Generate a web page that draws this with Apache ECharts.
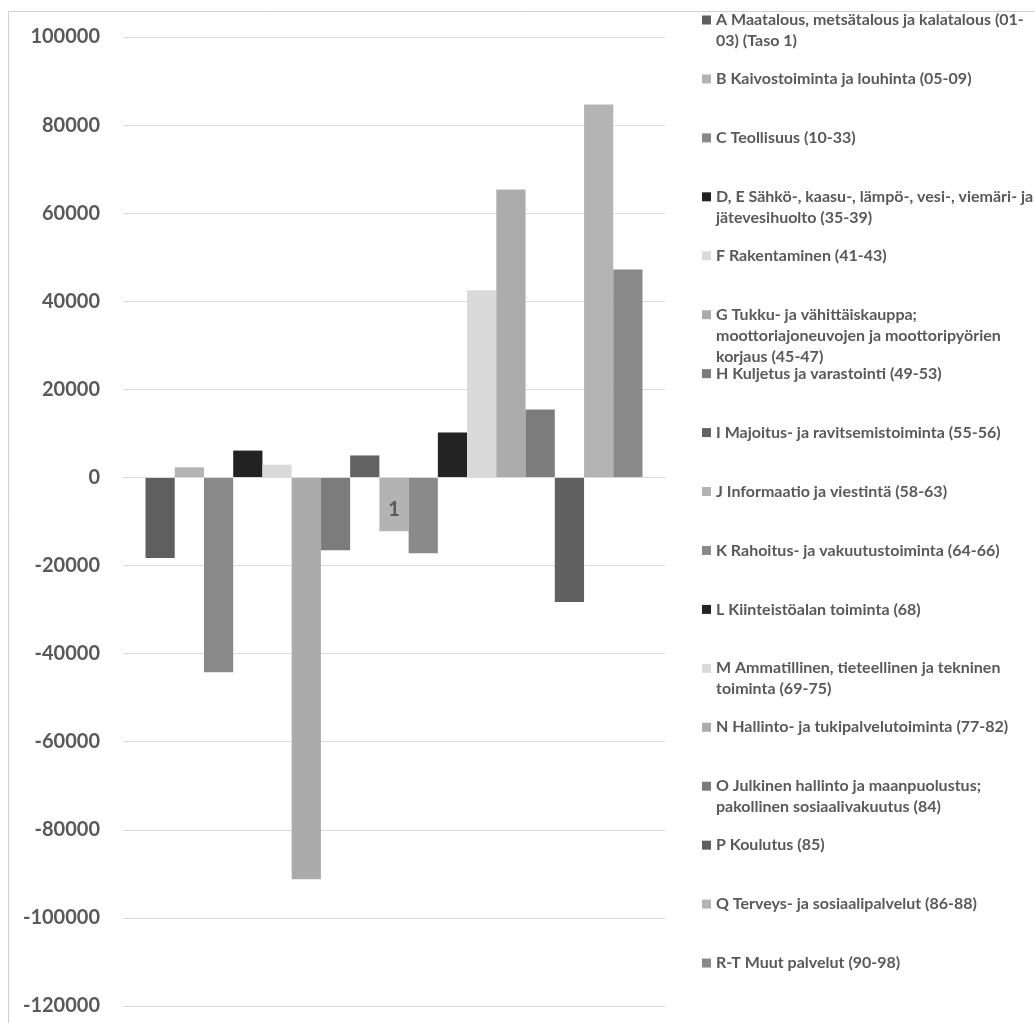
<!DOCTYPE html>
<html>
<head>
<meta charset="utf-8">
<script src="https://cdn.jsdelivr.net/npm/echarts@6/dist/echarts.min.js"></script>
<style>
  html, body { margin: 0; padding: 0; background: #ffffff; }
  #chart { width: 1035px; height: 1023px; }
</style>
</head>
<body>
<div id="chart"></div>
<script>
// Category axis: a single group
const categories = ['1'];

// Industry sections (TOL 2008)
const seriesNames = [
  'A Maatalous, metsätalous ja kalatalous (01-03) (Taso 1)',
  'B Kaivostoiminta ja louhinta (05-09)',
  'C Teollisuus (10-33)',
  'D, E Sähkö-, kaasu-, lämpö-, vesi-, viemäri- ja jätevesihuolto (35-39)',
  'F Rakentaminen (41-43)',
  'G Tukku- ja vähittäiskauppa; moottoriajoneuvojen ja moottoripyörien korjaus (45-47)',
  'H Kuljetus ja varastointi (49-53)',
  'I Majoitus- ja ravitsemistoiminta (55-56)',
  'J Informaatio ja viestintä (58-63)',
  'K Rahoitus- ja vakuutustoiminta (64-66)',
  'L Kiinteistöalan toiminta (68)',
  'M Ammatillinen, tieteellinen ja tekninen toiminta (69-75)',
  'N Hallinto- ja tukipalvelutoiminta (77-82)',
  'O Julkinen hallinto ja maanpuolustus; pakollinen sosiaalivakuutus (84)',
  'P Koulutus (85)',
  'Q Terveys- ja sosiaalipalvelut (86-88)',
  'R-T Muut palvelut (90-98)'
];

// Legend text as wrapped in the legend column
const legendLabels = [
  'A Maatalous, metsätalous ja kalatalous (01-\n03) (Taso 1)',
  'B Kaivostoiminta ja louhinta (05-09)',
  'C Teollisuus (10-33)',
  'D, E Sähkö-, kaasu-, lämpö-, vesi-, viemäri- ja\njätevesihuolto (35-39)',
  'F Rakentaminen (41-43)',
  'G Tukku- ja vähittäiskauppa;\nmoottoriajoneuvojen ja moottoripyörien\nkorjaus (45-47)',
  'H Kuljetus ja varastointi (49-53)',
  'I Majoitus- ja ravitsemistoiminta (55-56)',
  'J Informaatio ja viestintä (58-63)',
  'K Rahoitus- ja vakuutustoiminta (64-66)',
  'L Kiinteistöalan toiminta (68)',
  'M Ammatillinen, tieteellinen ja tekninen\ntoiminta (69-75)',
  'N Hallinto- ja tukipalvelutoiminta (77-82)',
  'O Julkinen hallinto ja maanpuolustus;\npakollinen sosiaalivakuutus (84)',
  'P Koulutus (85)',
  'Q Terveys- ja sosiaalipalvelut (86-88)',
  'R-T Muut palvelut (90-98)'
];

// Change per section
const values = [
  -18300, 2300, -44200, 6100, 2900, -91200, -16500, 5000, -12200,
  -17200, 10200, 42500, 65400, 15400, -28300, 84700, 47200
];

// Value axis ticks
const yTicks = [-120000, -100000, -80000, -60000, -40000, -20000, 0, 20000, 40000, 60000, 80000, 100000];

const colors = [
  '#5f5f5f', '#b3b3b3', '#898989', '#222222', '#dadada', '#ababab',
  '#7c7c7c', '#626262', '#b3b3b3', '#8a8a8a', '#232323', '#dadada',
  '#acacac', '#7c7c7c', '#606060', '#b4b4b4', '#8a8a8a'
];

const FONT = 'Lato';
const TEXT_COLOR = '#595959';
const LINE_H = 21;
const SLOT = 58.94;
const FIRST_ROW = 20;

const CHART_H = 1023;
const GRID_TOP = 37;
const GRID_BOTTOM = 17;
const Y_MIN = yTicks[0];
const Y_MAX = yTicks[yTicks.length - 1];

const chart = echarts.init(document.getElementById('chart'), null, { renderer: 'canvas' });

// One legend block per entry so every entry sits on its own evenly spaced row.
// Wrapped entries get blank lines in front so the marker (centred on the text
// block) lines up with the first line of text.
const legends = seriesNames.map((name, i) => {
  const lines = legendLabels[i].split('\n').length;
  return {
    data: [name],
    orient: 'vertical',
    left: 702,
    top: FIRST_ROW + i * SLOT - (2 * lines - 1) * LINE_H / 2,
    padding: 0,
    itemWidth: 9,
    itemHeight: 9,
    icon: 'rect',
    selectedMode: false,
    formatter: () => '\n'.repeat(lines - 1) + legendLabels[i],
    textStyle: {
      fontFamily: FONT,
      fontWeight: 'bold',
      fontSize: 16,
      color: TEXT_COLOR,
      lineHeight: LINE_H
    }
  };
});

// The category axis sits on the zero line: lift it from the grid bottom by
// the share of the value range that lies below zero.
const plotHeight = CHART_H - GRID_TOP - GRID_BOTTOM;
const zeroLift = plotHeight * (0 - Y_MIN) / (Y_MAX - Y_MIN);

const option = {
  backgroundColor: '#ffffff',
  animation: false,
  color: colors,
  grid: {
    left: 123, right: 370, top: GRID_TOP, bottom: GRID_BOTTOM,
    containLabel: false,
    outerBoundsMode: 'none'
  },
  legend: legends,
  graphic: [{
    type: 'polyline',
    shape: { points: [[8.5, 1023], [8.5, 11.5], [1035, 11.5]] },
    style: { stroke: '#d0d0d0', lineWidth: 1, fill: null },
    silent: true
  }],
  xAxis: {
    type: 'category',
    data: categories,
    position: 'bottom',
    offset: -zeroLift,
    z: 5,
    axisLine: { onZero: false, lineStyle: { color: '#d9d9d9', width: 1 } },
    axisTick: { show: false },
    axisLabel: {
      margin: 22,
      fontFamily: FONT,
      fontWeight: 'bold',
      fontSize: 20,
      color: TEXT_COLOR
    },
    splitLine: { show: false }
  },
  yAxis: {
    type: 'value',
    min: Y_MIN,
    max: Y_MAX,
    interval: 20000,
    axisLine: { show: false },
    axisTick: { show: false },
    axisLabel: {
      margin: 23,
      fontFamily: FONT,
      fontWeight: 'bold',
      fontSize: 20,
      color: TEXT_COLOR,
      formatter: (v) => String(v)
    },
    splitLine: { show: true, lineStyle: { color: '#d9d9d9', width: 1 } }
  },
  series: seriesNames.map((name, i) => ({
    name: name,
    type: 'bar',
    data: [values[i]],
    barGap: '0%',
    barCategoryGap: '8.3%',
    itemStyle: { color: colors[i] }
  }))
};

chart.setOption(option);
</script>
</body>
</html>
